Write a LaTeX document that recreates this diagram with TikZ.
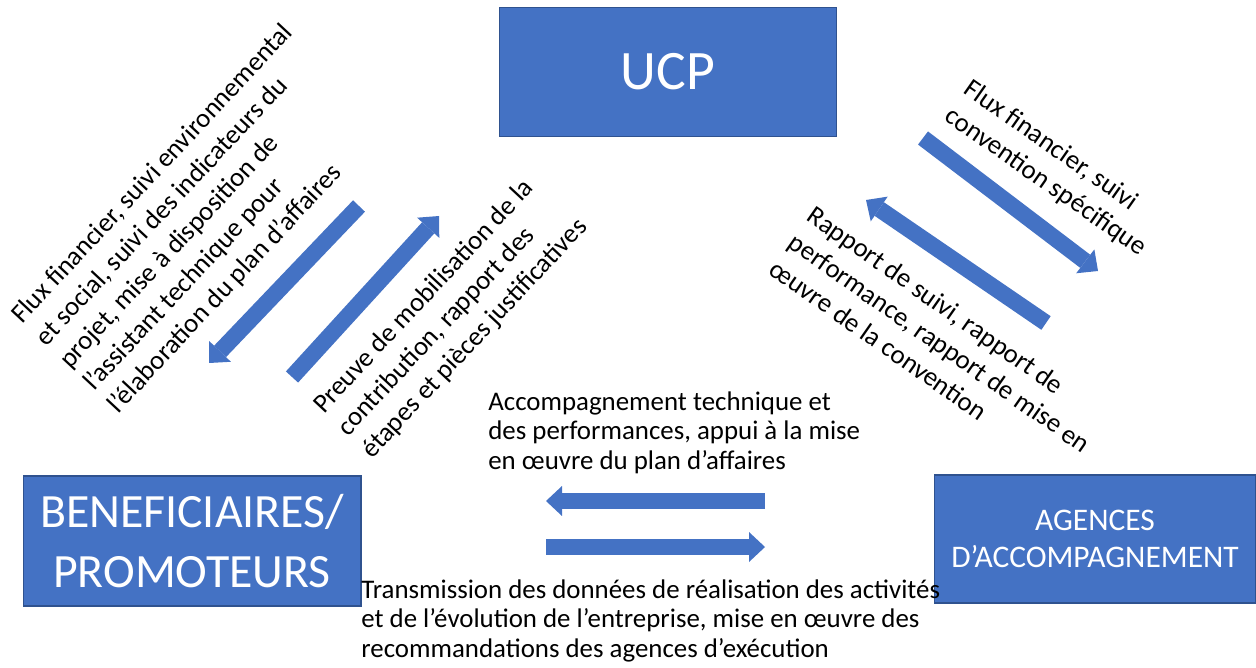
\documentclass[tikz,border=0pt]{standalone}
\usepackage{fontspec}
\setmainfont{Carlito}
\usepackage{tikz}
\usetikzlibrary{arrows.meta}
\definecolor{boxblue}{HTML}{4472C4}
\definecolor{boxline}{HTML}{2F528F}

\begin{document}
\begin{tikzpicture}[x=0.02cm, y=-0.02cm,
  box/.style={rectangle, draw=boxline, line width=0.6pt, fill=boxblue, text=white, align=center, inner sep=0pt},
  arr/.style={boxblue, line width=0.33cm, -{Triangle[length=0.32cm, width=0.6cm, line width=0pt]}},
  lbl/.style={inner sep=0pt, align=left, anchor=north west, font=\fontsize{15.3}{17}\selectfont},
  tilt/.style={lbl, font=\fontsize{15.3}{18.7}\selectfont}
]
\useasboundingbox (0,0) rectangle (1256,668);

\node[box, minimum width=6.74cm, minimum height=2.58cm, font=\fontsize{31.7}{38}\selectfont] (ucp) at (668,72) {UCP};
\node[box, minimum width=6.76cm, minimum height=2.6cm, font=\fontsize{27.2}{34}\selectfont] (benef) at (192,541) {BENEFICIAIRES/\\PROMOTEURS};
\node[box, minimum width=6.44cm, minimum height=2.56cm, font=\fontsize{17.9}{21}\selectfont] (agences) at (1095,539) {AGENCES\\D’ACCOMPAGNEMENT};

% arrows between UCP and the beneficiaries
\coordinate (ucp2benS) at (359,206);
\coordinate (ucp2benE) at (209,363);
\coordinate (ben2ucpS) at (292,377);
\coordinate (ben2ucpE) at (439,216);
\draw[arr] (ucp2benS) -- (ucp2benE);
\draw[arr] (ben2ucpS) -- (ben2ucpE);

% arrows between UCP and the agencies
\coordinate (ucp2agS) at (923,138);
\coordinate (ucp2agE) at (1098,271);
\coordinate (ag2ucpS) at (1046,323);
\coordinate (ag2ucpE) at (866,200);
\draw[arr] (ucp2agS) -- (ucp2agE);
\draw[arr] (ag2ucpS) -- (ag2ucpE);

% arrows between agencies and beneficiaries
\coordinate (ag2benS) at (765,501);
\coordinate (ag2benE) at (546,501);
\coordinate (ben2agS) at (546,547);
\coordinate (ben2agE) at (765,547);
\draw[arr] (ag2benS) -- (ag2benE);
\draw[arr] (ben2agS) -- (ben2agE);

\node[tilt, rotate=47] (fluxben) at (8,312) {Flux financier, suivi environnemental\\et social, suivi des indicateurs du\\projet, mise à disposition de\\l’assistant technique pour\\l’élaboration du plan d’affaires};
\node[tilt, rotate=47] (preuve) at (310,402) {Preuve de mobilisation de la\\contribution, rapport des\\étapes et pièces justificatives};
\node[tilt, rotate=-35] (fluxag) at (973,77) {Flux financier, suivi\\convention spécifique};
\node[tilt, rotate=-35] (rapport) at (816,204) {Rapport de suivi, rapport de\\performance, rapport de mise en\\œuvre de la convention};
\node[lbl] (appui) at (488,391) {Accompagnement technique et\\des performances, appui à la mise\\en œuvre du plan d’affaires};
\node[lbl] (transm) at (361,579) {Transmission des données de réalisation des activités\\et de l’évolution de l’entreprise, mise en œuvre des\\recommandations des agences d’exécution};
\end{tikzpicture}
\end{document}
